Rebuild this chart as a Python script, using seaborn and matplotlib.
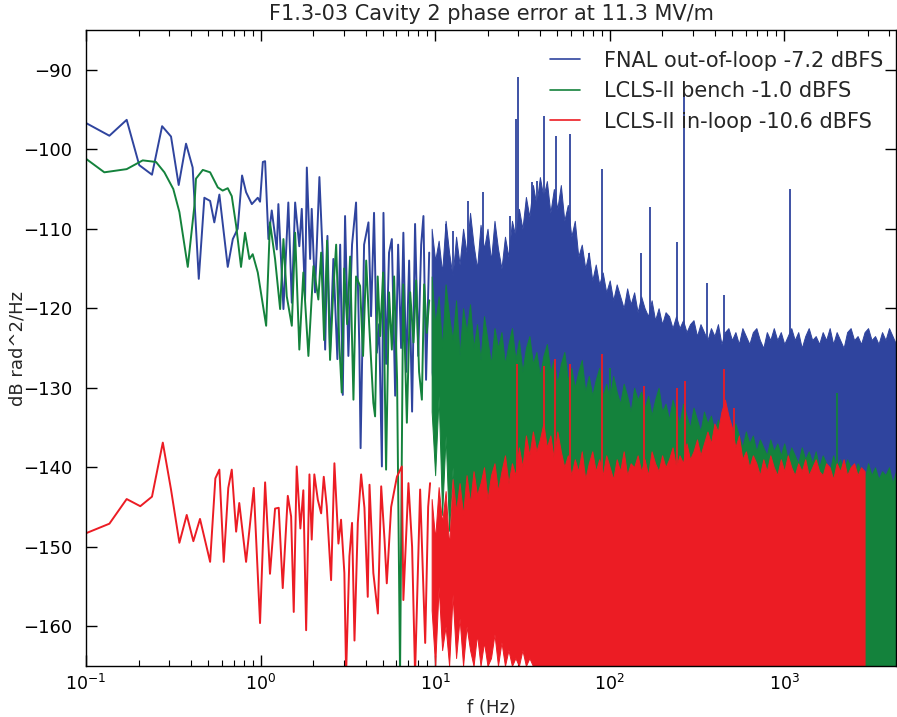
import numpy as np
import pandas as pd
import matplotlib
matplotlib.use("Agg")
import matplotlib.pyplot as plt
import seaborn as sns

# ---------------- data ----------------
TITLE = "F1.3-03 Cavity 2 phase error at 11.3 MV/m"
XLABEL = "f (Hz)"
YLABEL = "dB rad^2/Hz"
LABELS = ["FNAL out-of-loop -7.2 dBFS", "LCLS-II bench -1.0 dBFS", "LCLS-II in-loop -10.6 dBFS"]
YTICKS = [-160, -150, -140, -130, -120, -110, -100, -90]

# low-frequency part: individual points (log10 of frequency in Hz, dB)
fnal_lf_log10f = [-1.000, -0.866, -0.767, -0.695, -0.622, -0.564, -0.513, -0.469, -0.427, -0.389,
                  -0.354, -0.322, -0.289, -0.265, -0.236, -0.188, -0.159, -0.131, -0.106, -0.083,
                  -0.050, -0.016, -0.003, 0.013, 0.026, 0.045, 0.064, 0.093, 0.102, 0.131,
                  0.159, 0.179, 0.198, 0.222, 0.236, 0.255, 0.265, 0.284, 0.293, 0.312,
                  0.337, 0.356, 0.370, 0.383, 0.398, 0.417, 0.440, 0.456, 0.471, 0.484,
                  0.503, 0.524, 0.547, 0.566, 0.573, 0.593, 0.618, 0.633, 0.650, 0.666,
                  0.679, 0.695, 0.704, 0.719, 0.736, 0.752, 0.771, 0.788, 0.805, 0.818,
                  0.834, 0.851, 0.868, 0.885, 0.903, 0.920, 0.933, 0.948, 0.966]
fnal_lf_db = [-96.7, -98.3, -96.3, -102.0, -103.2, -97.1, -98.4, -104.5, -99.3, -102.3,
              -116.3, -106.1, -106.5, -109.2, -105.7, -114.8, -111.3, -110.0, -103.3, -105.4,
              -106.9, -106.1, -106.6, -101.6, -101.5, -111.3, -107.7, -112.6, -106.9, -120.1,
              -106.7, -119.3, -106.7, -112.2, -107.5, -118.9, -102.3, -113.8, -107.5, -118.0,
              -103.5, -113.4, -125.2, -110.9, -125.6, -113.8, -126.4, -112.0, -130.9, -108.4,
              -126.0, -112.0, -106.7, -125.2, -137.6, -112.0, -109.2, -121.0, -108.0, -125.6,
              -122.0, -139.9, -108.0, -127.0, -113.0, -111.3, -131.0, -112.0, -125.0, -110.5,
              -128.0, -114.0, -133.0, -109.4, -126.0, -112.0, -108.4, -129.0, -113.0]

bench_lf_log10f = [-1.000, -0.895, -0.767, -0.675, -0.599, -0.551, -0.500, -0.465, -0.417, -0.379,
                   -0.370, -0.331, -0.289, -0.245, -0.217, -0.188, -0.165, -0.140, -0.112, -0.089,
                   -0.064, -0.045, -0.016, 0.032, 0.054, 0.083, 0.112, 0.131, 0.150, 0.179,
                   0.198, 0.222, 0.245, 0.274, 0.303, 0.331, 0.347, 0.364, 0.381, 0.398,
                   0.417, 0.433, 0.450, 0.465, 0.479, 0.496, 0.513, 0.532, 0.547, 0.570,
                   0.587, 0.605, 0.622, 0.646, 0.656, 0.671, 0.685, 0.702, 0.719, 0.736,
                   0.752, 0.765, 0.782, 0.799, 0.817, 0.838, 0.857, 0.876, 0.891, 0.908,
                   0.924, 0.937, 0.952, 0.966]
bench_lf_db = [-101.2, -102.9, -102.5, -101.4, -101.6, -102.9, -105.0, -107.9, -114.8, -107.1,
               -103.7, -102.6, -102.9, -104.8, -105.2, -104.9, -105.9, -109.6, -114.8, -110.5,
               -113.8, -113.2, -115.5, -122.2, -109.2, -113.8, -120.1, -111.3, -118.5, -122.2,
               -110.5, -125.2, -115.5, -126.0, -114.7, -118.9, -113.0, -124.0, -111.5, -126.5,
               -117.6, -112.0, -124.0, -130.6, -115.0, -122.0, -113.5, -131.5, -116.0, -117.2,
               -126.0, -114.0, -122.0, -131.9, -133.6, -116.0, -123.5, -115.5, -140.3, -118.0,
               -125.2, -116.0, -129.0, -166.0, -117.0, -134.4, -118.0, -124.3, -116.5, -128.0,
               -131.5, -117.0, -123.1, -119.0]

inloop_lf_log10f = [-1.000, -0.866, -0.767, -0.689, -0.622, -0.560, -0.513, -0.465, -0.423, -0.385,
                    -0.347, -0.289, -0.259, -0.236, -0.211, -0.185, -0.165, -0.140, -0.122, -0.083,
                    -0.039, -0.003, 0.026, 0.054, 0.083, 0.104, 0.127, 0.156, 0.175, 0.190,
                    0.207, 0.228, 0.245, 0.261, 0.280, 0.293, 0.308, 0.328, 0.347, 0.362,
                    0.379, 0.404, 0.423, 0.446, 0.461, 0.480, 0.490, 0.509, 0.524, 0.538,
                    0.557, 0.576, 0.595, 0.614, 0.624, 0.646, 0.672, 0.691, 0.710, 0.723,
                    0.748, 0.781, 0.809, 0.818, 0.847, 0.868, 0.885, 0.914, 0.943, 0.960,
                    0.971]
inloop_lf_db = [-148.3, -147.1, -144.0, -144.9, -143.7, -136.9, -142.8, -149.5, -146.0, -149.3,
                -146.5, -151.9, -141.4, -140.3, -151.9, -142.6, -140.3, -148.1, -144.5, -151.9,
                -142.6, -159.6, -141.9, -153.4, -145.2, -145.1, -155.2, -143.6, -146.2, -158.2,
                -139.9, -147.7, -142.9, -160.5, -140.9, -149.1, -140.9, -144.1, -145.8, -141.2,
                -144.9, -154.2, -139.5, -149.6, -146.6, -153.3, -166.0, -151.2, -147.0, -161.8,
                -147.0, -140.9, -145.1, -156.3, -142.2, -153.3, -158.4, -142.4, -149.1, -154.6,
                -145.0, -141.2, -139.9, -156.7, -142.0, -150.0, -166.0, -142.8, -162.1, -145.0,
                -142.0]

# dense part (above ~10 Hz): sampling grid in log10(Hz); upper / lower edge of the dense trace
dense_log10f = np.round(np.arange(0.98, 3.67, 0.02), 2)   # 135 samples, 0.98 ... 3.66

fnal_top = [-110, -114, -111.5, -115.5, -109, -113, -116, -111, -114.5, -110,
            -113, -108, -112, -115, -109.5, -112.5, -110, -114, -109, -112.5,
            -115, -111, -113.5, -109, -111, -107.5, -110, -106, -108.5, -104.5,
            -107, -103.5, -106, -104, -108, -105, -107.5, -104.5, -109, -107,
            -111, -109, -113.5, -112, -115, -113, -116.5, -114.5, -117, -115.5,
            -118, -116.5, -119, -117, -118.5, -120, -117.5, -119.5, -118, -120.5,
            -118.5, -120, -121, -119, -121.5, -120, -122, -120.5, -121, -122.5,
            -121, -122.5, -121.5, -123, -122, -121.5, -123.5, -122, -123, -124,
            -122.5, -123.5, -122, -124.5, -123, -122.5, -124, -123, -124.5, -122.5,
            -123.5, -124.5, -123, -122.5, -124, -125, -123, -124, -122.5, -124,
            -123, -124.5, -123.5, -122.5, -124, -123, -125, -123.5, -122.5, -124,
            -123.5, -124.5, -123, -124, -122.5, -124.5, -123, -124, -125, -123,
            -122.5, -124, -123.5, -124.5, -123, -122.5, -124, -123.5, -124.5, -123,
            -124, -122.5, -123.5, -124.5, -123.5]
fnal_bottom = [-128, -134, -126, -138, -130, -140, -135, -142, -138, -145] + [-150] * 125

bench_top = [-116, -122, -118.5, -125, -117, -121, -124, -119, -126, -120,
             -123, -119.5, -125, -122, -126.5, -121, -124, -127, -122.5, -125,
             -123, -127, -124.5, -122.5, -126.5, -124, -128, -125, -123.5, -127,
             -125.5, -128.5, -126, -124.5, -128, -126.5, -129.5, -127, -125.5, -129,
             -127.5, -130, -128, -126.5, -130.5, -128.5, -131, -129, -127.5, -131,
             -129.5, -131.5, -128.5, -130.5, -132, -129.5, -131, -133, -130, -131.5,
             -130.5, -132.5, -131, -133.5, -131.5, -130, -133, -132, -134, -131.5,
             -133, -134.5, -132, -133.5, -135, -132.5, -134, -135.5, -133, -134.5,
             -133.5, -135.5, -134, -136, -134.5, -135.5, -137, -134.5, -136, -137.5,
             -135.5, -137, -136, -138, -136.5, -137.5, -138.5, -136.5, -138, -137,
             -138.5, -137, -139, -137.5, -138.5, -139.5, -137.5, -139, -138, -139.5,
             -138, -140, -138.5, -139.5, -140.5, -138.5, -140, -139, -140.5, -139,
             -140, -141, -139.5, -140.5, -141.5, -139.5, -141, -140, -141.5, -140.5,
             -141, -140, -142, -140.5, -141.5]
bench_bottom = [-133, -141, -131, -146, -136, -148, -140, -150, -144, -151] + [-150] * 28 + [-165] * 97

inloop_top = [-144, -149, -142.5, -147, -143, -150, -141.5, -145.5, -142, -146,
              -141, -144.5, -140.5, -143.5, -142, -140, -144, -141, -139.5, -143,
              -140.5, -138.5, -142, -139.5, -141, -137.5, -140, -136, -138.5, -135.5,
              -138, -136.5, -134.5, -137.5, -136, -139, -135.5, -138, -140, -138.5,
              -141, -139, -140.5, -138, -141.5, -139.5, -138, -140.5, -139, -141,
              -138.5, -140, -141.5, -139, -140.5, -138, -141, -139.5, -140, -138.5,
              -140.5, -139, -141, -138, -139.5, -140.5, -138.5, -140, -139, -137.5,
              -140, -138.5, -139.5, -137, -139, -138, -136.5, -138.5, -137, -135.5,
              -137, -134.5, -135.5, -133, -131.5, -133.5, -135, -137.5, -136, -139,
              -138, -140, -138.5, -139.5, -141, -139, -140.5, -138.5, -140, -141,
              -139, -140.5, -138.5, -140, -141, -139.5, -140.5, -139, -141, -140,
              -139, -140.5, -141, -139.5, -140, -141.5, -139.5, -140.5, -139, -141,
              -140, -139.5, -141, -140, -140.5]
inloop_bottom = [-158, -165, -155, -163, -160, -165, -156, -164, -159, -165,
                 -160, -163, -165, -161, -165, -162, -165, -164, -161, -165,
                 -162, -165, -163, -165, -164, -165, -163, -165, -164, -165] + [-165] * 95

# narrow spectral lines (log10 Hz, peak dB)
fnal_spike_log10f = [1.061, 1.101, 1.191, 1.277, 1.430, 1.464, 1.477, 1.554, 1.583, 1.625,
                     1.692, 1.770, 1.879, 1.955, 2.179, 2.228, 2.385, 2.423, 2.557, 2.652, 3.034]
fnal_spike_db = [-109.4, -110.3, -106.5, -105.4, -108.4, -96.2, -90.9, -104.1, -104.0, -95.8,
                 -98.3, -98.1, -113.0, -102.5, -113.0, -107.3, -111.7, -93.2, -116.8, -118.3, -105.0]
bench_spike_log10f = [2.003, 3.302]
bench_spike_db = [-127.5, -130.6]
inloop_spike_log10f = [1.470, 1.621, 1.688, 1.774, 1.955, 2.194, 2.385, 2.433, 2.656, 2.713]
inloop_spike_db = [-127.0, -127.3, -126.4, -127.0, -125.8, -129.8, -130.0, -129.2, -127.7, -132.5]

COLORS = ["#2f449e", "#14823c", "#ec1c24"]

# ---------------- plotting ----------------
sns.set_style("white")
plt.rcParams.update({
    "font.family": ["DejaVu Sans"],
    "xtick.direction": "in", "ytick.direction": "in",
    "xtick.top": True, "ytick.right": True,
    "xtick.bottom": True, "ytick.left": True,
    "xtick.major.size": 8, "xtick.minor.size": 4,
    "ytick.major.size": 8, "ytick.minor.size": 4,
    "xtick.major.width": 1.0, "ytick.major.width": 1.0,
    "xtick.minor.width": 0.8,
    "xtick.color": "black", "ytick.color": "black",
    "xtick.labelsize": 12.5, "ytick.labelsize": 13,
    "xtick.major.pad": 6, "ytick.major.pad": 10,
    "axes.edgecolor": "black", "axes.linewidth": 1.0,
})

fig = plt.figure(figsize=(8.97, 7.17), dpi=100)
ax = fig.add_axes([86 / 897, 51 / 717, 810 / 897, 636 / 717])
ax.set_xscale("log")

series = [
    (fnal_lf_log10f, fnal_lf_db, fnal_top, fnal_bottom, fnal_spike_log10f, fnal_spike_db, -126),
    (bench_lf_log10f, bench_lf_db, bench_top, bench_bottom, bench_spike_log10f, bench_spike_db, -141),
    (inloop_lf_log10f, inloop_lf_db, inloop_top, inloop_bottom, inloop_spike_log10f, inloop_spike_db, -142),
]

for k, (lf_x, lf_y, top, bot, sp_x, sp_y, sp_base) in enumerate(series):
    z = 2 + k
    col = COLORS[k]
    df = pd.DataFrame({"f": 10 ** np.array(lf_x), "db": lf_y})
    sns.lineplot(data=df, x="f", y="db", ax=ax, color=col, lw=1.4, label=LABELS[k],
                 estimator=None, sort=False, zorder=z)
    n = len(top)
    fd = 10 ** dense_log10f[:n]
    ax.fill_between(fd, bot, top, color=col, lw=0.7, edgecolor=col, zorder=z)
    ax.vlines(10 ** np.array(sp_x), sp_base, sp_y, color=col, lw=1.3, zorder=z)

ax.set_xlim(0.1, 10 ** 3.64)
ax.set_ylim(-165, -85)
ax.set_yticks(YTICKS)
ax.set_title(TITLE, fontsize=15, pad=7)
ax.set_xlabel(XLABEL, fontsize=13, labelpad=3)
ax.set_ylabel(YLABEL, fontsize=13)
ax.yaxis.set_label_coords(-0.074, 0.5)
for s in ax.spines.values():
    s.set_visible(True)
    s.set_color("black")
    s.set_zorder(10)

leg = ax.legend(loc="upper right", bbox_to_anchor=(1.0, 0.987), frameon=False, fontsize=15,
                handlelength=1.45, handletextpad=1.15, labelspacing=0.5, borderaxespad=0.2)
for line in leg.get_lines():
    line.set_linewidth(1.2)

fig.savefig("out.png", dpi=100)
